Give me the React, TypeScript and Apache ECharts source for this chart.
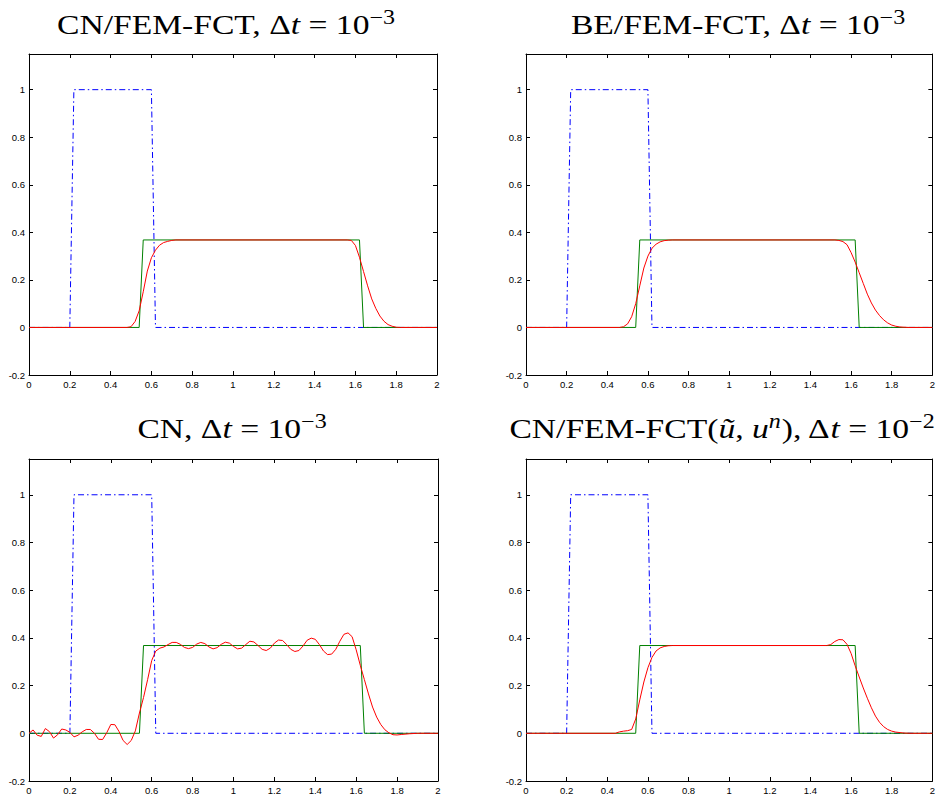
import { useEffect, useRef } from "react";
import * as echarts from "echarts";

// Axis ranges and ticks
const X_MIN = 0;
const X_MAX = 2;
const X_STEP = 0.2;
const Y_MIN = -0.2;
const Y_MAX = 1.15;
const Y_STEP = 0.2;

// Initial condition (blue dash-dot)
const INIT_X = [0, 0.2, 0.22, 0.6, 0.62, 2];
const INIT_Y = [0, 0, 1, 1, 0, 0];

// Exact solution (green)
const EXACT_X = [0, 0.54, 0.56, 1.62, 1.64, 2];
const EXACT_Y = [0, 0, 0.368, 0.368, 0, 0];

// Panel 1: CN/FEM-FCT, dt = 1e-3
const CN_FCT_X = [0, 0.48, 0.5, 0.52, 0.54, 0.56, 0.58, 0.6, 0.62, 0.64, 0.66, 0.68, 0.7, 0.72, 1.56, 1.58, 1.6, 1.62, 1.64, 1.66, 1.68, 1.7, 1.72, 1.74, 1.76, 1.78, 1.8, 1.82, 2];
const CN_FCT_Y = [0, 0, 0.003, 0.025, 0.07, 0.15, 0.237, 0.293, 0.325, 0.346, 0.357, 0.362, 0.366, 0.368, 0.368, 0.366, 0.345, 0.295, 0.235, 0.175, 0.12, 0.08, 0.048, 0.026, 0.012, 0.005, 0.001, 0, 0];

// Panel 2: BE/FEM-FCT, dt = 1e-3
const BE_FCT_X = [0, 0.46, 0.48, 0.5, 0.52, 0.54, 0.56, 0.58, 0.6, 0.62, 0.64, 0.66, 0.68, 0.7, 0.72, 1.52, 1.54, 1.56, 1.58, 1.6, 1.62, 1.64, 1.66, 1.68, 1.7, 1.72, 1.74, 1.76, 1.78, 1.8, 1.82, 1.84, 1.88, 2];
const BE_FCT_Y = [0, 0, 0.003, 0.015, 0.045, 0.1, 0.175, 0.25, 0.3, 0.333, 0.35, 0.36, 0.365, 0.367, 0.368, 0.368, 0.366, 0.361, 0.348, 0.315, 0.275, 0.23, 0.185, 0.14, 0.103, 0.073, 0.05, 0.032, 0.019, 0.01, 0.005, 0.002, 0, 0];

// Panel 3: CN, dt = 1e-3
const CN_X = [
  0, 0.02, 0.04, 0.06, 0.08, 0.1, 0.12, 0.14, 0.16, 0.18,
  0.2, 0.22, 0.24, 0.26, 0.28, 0.3, 0.32, 0.34, 0.36, 0.38,
  0.4, 0.42, 0.44, 0.46, 0.48, 0.5, 0.52, 0.54, 0.56, 0.58,
  0.6, 0.62, 0.64, 0.66, 0.68, 0.7, 0.72, 0.74, 0.76, 0.78,
  0.8, 0.82, 0.84, 0.86, 0.88, 0.9, 0.92, 0.94, 0.96, 0.98,
  1.0, 1.02, 1.04, 1.06, 1.08, 1.1, 1.12, 1.14, 1.16, 1.18,
  1.2, 1.22, 1.24, 1.26, 1.28, 1.3, 1.32, 1.34, 1.36, 1.38,
  1.4, 1.42, 1.44, 1.46, 1.48, 1.5, 1.52, 1.54, 1.56, 1.58,
  1.6, 1.62, 1.64, 1.66, 1.68, 1.7, 1.72, 1.74, 1.76, 1.78,
  1.8, 1.82, 1.86, 1.9, 2,
];
const CN_Y = [
  0, 0.014, -0.008, -0.013, 0.02, 0.007, -0.02, -0.006, 0.018, 0.014,
  0.004, -0.015, -0.008, 0.006, 0.016, 0.016, 0, -0.025, -0.026, 0.002,
  0.037, 0.036, 0.008, -0.03, -0.047, -0.03, 0.01, 0.085, 0.15, 0.225,
  0.305, 0.345, 0.357, 0.362, 0.372, 0.381, 0.381, 0.373, 0.36, 0.355,
  0.36, 0.374, 0.381, 0.376, 0.362, 0.354, 0.359, 0.373, 0.382, 0.378,
  0.364, 0.354, 0.357, 0.372, 0.386, 0.383, 0.368, 0.352, 0.347, 0.357,
  0.378, 0.391, 0.389, 0.372, 0.352, 0.343, 0.347, 0.366, 0.39, 0.399,
  0.394, 0.372, 0.345, 0.33, 0.332, 0.352, 0.386, 0.415, 0.421, 0.405,
  0.35, 0.285, 0.225, 0.165, 0.11, 0.068, 0.037, 0.015, 0.002, -0.006,
  -0.007, -0.005, -0.002, 0, 0,
];

// Panel 4: CN/FEM-FCT(u~, u^n), dt = 1e-2
const CN_FCT2_X = [0, 0.44, 0.46, 0.48, 0.5, 0.52, 0.54, 0.56, 0.58, 0.6, 0.62, 0.64, 0.66, 0.68, 0.7, 0.72, 1.48, 1.5, 1.52, 1.54, 1.56, 1.58, 1.6, 1.62, 1.64, 1.66, 1.68, 1.7, 1.72, 1.74, 1.76, 1.78, 1.8, 1.82, 1.86, 1.9, 2];
const CN_FCT2_Y = [0, 0, 0.006, 0.009, 0.011, 0.016, 0.06, 0.14, 0.215, 0.275, 0.318, 0.345, 0.358, 0.364, 0.367, 0.368, 0.368, 0.372, 0.385, 0.393, 0.392, 0.373, 0.335, 0.283, 0.236, 0.19, 0.147, 0.107, 0.072, 0.046, 0.028, 0.016, 0.009, 0.005, 0.001, 0, 0];

const SERIF = "'Liberation Serif', 'DejaVu Serif', serif";
const SANS = "'Liberation Sans', Arial, sans-serif";

const TITLES = [
  "{r|CN/FEM-FCT, Δ}{i|t}{r| = 10}{s|−3}",
  "{r|BE/FEM-FCT, Δ}{i|t}{r| = 10}{s|−3}",
  "{r|CN, Δ}{i|t}{r| = 10}{s|−3}",
  "{r|CN/FEM-FCT(}{i|ũ}{r|, }{i|u}{si|n}{r|), Δ}{i|t}{r| = 10}{s|−2}",
];
const TITLE_CX = [226, 738, 232, 722];
const TITLE_CY = [24, 24, 428, 428];

const RED_X = [CN_FCT_X, BE_FCT_X, CN_X, CN_FCT2_X];
const RED_Y = [CN_FCT_Y, BE_FCT_Y, CN_Y, CN_FCT2_Y];

const GRIDS = [
  { left: 29, top: 54, width: 408, height: 321 },
  { left: 526, top: 54, width: 408, height: 321 },
  { left: 29, top: 459, width: 409, height: 322 },
  { left: 526, top: 459, width: 408, height: 322 },
];

const pairs = (xs: number[], ys: number[]) => xs.map((x, i) => [x, ys[i]]);

export default function App() {
  const ref = useRef<HTMLDivElement>(null);

  useEffect(() => {
    if (!ref.current) return;
    const chart = echarts.init(ref.current, undefined, { renderer: "svg" });

    const tok = { fontFamily: SERIF, fontWeight: "normal", color: "#000" };
    const rich = {
      r: { ...tok, fontSize: 28, lineHeight: 34 },
      i: { ...tok, fontSize: 28, lineHeight: 34, fontStyle: "italic" },
      s: { ...tok, fontSize: 20, lineHeight: 18, verticalAlign: "top" },
      si: { ...tok, fontSize: 20, lineHeight: 18, verticalAlign: "top", fontStyle: "italic" },
    };

    const xAxis: any[] = [];
    const yAxis: any[] = [];
    const series: any[] = [];

    GRIDS.forEach((_, g) => {
      const common = {
        gridIndex: g,
        type: "value",
        axisLine: { show: true, onZero: false, lineStyle: { color: "#000", width: 1 } },
        axisTick: { show: true, inside: true, length: 4, lineStyle: { color: "#000", width: 1 } },
        splitLine: { show: false },
      };
      const xCommon = { ...common, min: X_MIN, max: X_MAX, interval: X_STEP };
      const yCommon = { ...common, min: Y_MIN, max: Y_MAX, interval: Y_STEP };
      xAxis.push({
        ...xCommon,
        position: "bottom",
        axisLabel: { show: true, fontFamily: SANS, fontSize: 9.5, color: "#000", margin: 4 },
      });
      xAxis.push({ ...xCommon, position: "top", axisLabel: { show: false } });
      yAxis.push({
        ...yCommon,
        position: "left",
        axisLabel: { show: true, fontFamily: SANS, fontSize: 9.5, color: "#000", margin: 4, showMaxLabel: false },
      });
      yAxis.push({ ...yCommon, position: "right", axisLabel: { show: false } });

      const base = {
        type: "line",
        xAxisIndex: 2 * g,
        yAxisIndex: 2 * g,
        showSymbol: false,
        symbol: "none",
        silent: true,
        smooth: false,
      };
      series.push({
        ...base,
        data: pairs(INIT_X, INIT_Y),
        lineStyle: { color: "#0000ff", width: 1, type: [6, 3, 1.5, 3] },
      });
      series.push({
        ...base,
        data: pairs(EXACT_X, EXACT_Y),
        lineStyle: { color: "#008000", width: 1 },
      });
      series.push({
        ...base,
        data: pairs(RED_X[g], RED_Y[g]),
        lineStyle: { color: "#ff0000", width: 1 },
      });
    });

    chart.setOption({
      animation: false,
      backgroundColor: "#fff",
      graphic: TITLES.map((t, g) => ({
        type: "text",
        x: TITLE_CX[g],
        y: TITLE_CY[g],
        scaleX: 1.2,
        silent: true,
        style: { text: t, rich, align: "center", verticalAlign: "middle" },
      })),
      grid: GRIDS.map((gr) => ({ ...gr, containLabel: false })),
      xAxis,
      yAxis,
      series,
    });

    return () => chart.dispose();
  }, []);

  return (
    <div
      ref={ref}
      style={{ position: "absolute", left: 0, top: 0, width: 938, height: 796, background: "#fff" }}
    />
  );
}
